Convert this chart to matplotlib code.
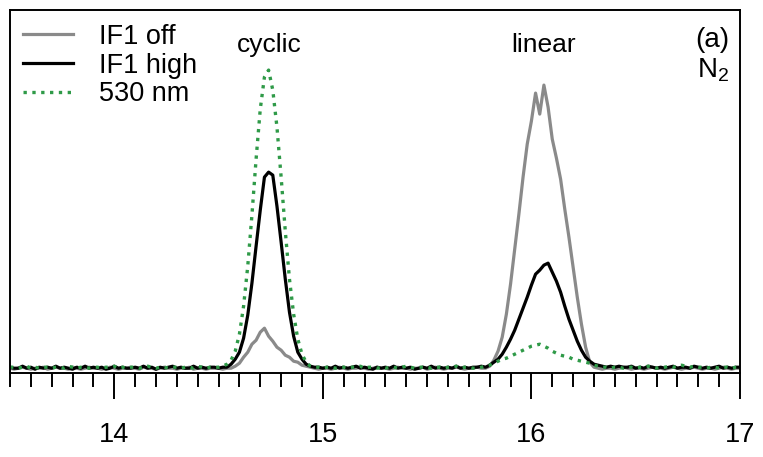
import numpy as np
import matplotlib.pyplot as plt
from matplotlib.ticker import MultipleLocator

plt.rcParams["font.family"] = ["Liberation Sans", "DejaVu Sans"]
plt.rcParams["mathtext.fontset"] = "custom"
plt.rcParams["mathtext.rm"] = "Liberation Sans"

# sampling grid of the traces (min)
retention_time = np.round(np.arange(13.50, 17.001, 0.02), 2)

# one row = 10 samples (0.2 min)
if1_off = [
    1, 0, 1, 2, 1, 0, 1, 1, 2, 0,
    1, 2, 1, 1, 0, 2, 1, 0, 1, 2,
    1, 1, 0, 1, 2, 1, 0, 1, 1, 2,
    1, 0, 2, 1, 1, 0, 1, 2, 1, 1,
    0, 1, 1, 2, 0, 1, 1, 0, 1, 1,
    1, 0, 1, 1, 3, 6, 12, 17, 25, 29,
    37, 41, 33, 28, 22, 19, 14, 12, 8, 7,
    4, 3, 2, 1, 0, 1, 1, 0, 1, 2,
    1, 0, 1, 1, 2, 1, 0, 1, 2, 1,
    1, 0, 1, 2, 1, 1, 0, 1, 1, 2,
    0, 1, 2, 1, 0, 1, 1, 2, 1, 0,
    1, 1, 2, 1, 1, 3, 9, 18, 32, 55,
    85, 120, 155, 192, 225, 248, 276, 255, 284, 262,
    230, 211, 190, 160, 132, 102, 72, 45, 22, 7,
    2, 1, 0, 1, 1, 0, 1, 2, 1, 0,
    1, 1, 0, 1, 2, 1, 1, 0, 1, 2,
    1, 0, 1, 1, 2, 1, 0, 1, 1, 0,
    1, 2, 1, 0, 1, 1,
]

if1_high = [
    2, 1, 1, 3, 1, 2, 0, 2, 1, 2,
    1, 3, 1, 2, 1, 0, 2, 1, 3, 1,
    2, 1, 2, 0, 1, 3, 1, 2, 1, 1,
    2, 1, 3, 1, 2, 0, 2, 1, 2, 3,
    1, 2, 1, 1, 3, 1, 2, 1, 2, 2,
    1, 2, 2, 5, 10, 17, 31, 54, 86, 123,
    159, 192, 197, 194, 163, 127, 90, 57, 33, 17,
    10, 5, 3, 2, 2, 1, 2, 1, 3, 1,
    2, 1, 2, 3, 1, 2, 1, 0, 2, 1,
    2, 1, 3, 1, 2, 1, 2, 0, 1, 2,
    1, 3, 1, 2, 1, 2, 1, 3, 1, 2,
    1, 2, 2, 3, 2, 4, 7, 10, 15, 22,
    30, 39, 50, 61, 72, 84, 95, 99, 104, 106,
    97, 88, 77, 63, 50, 39, 28, 19, 12, 8,
    5, 4, 3, 2, 3, 2, 3, 2, 2, 3,
    1, 2, 1, 3, 2, 1, 2, 1, 2, 3,
    1, 2, 2, 1, 3, 2, 1, 2, 1, 2,
    3, 1, 2, 1, 2, 2,
]

nm530 = [
    2, 2, 1, 2, 3, 1, 2, 1, 2, 2,
    1, 2, 2, 1, 3, 2, 1, 2, 2, 1,
    2, 2, 1, 2, 2, 3, 1, 2, 1, 2,
    2, 1, 2, 3, 2, 1, 2, 2, 1, 2,
    2, 1, 2, 2, 1, 3, 2, 1, 2, 2,
    2, 3, 5, 9, 18, 35, 63, 103, 154, 210,
    260, 292, 299, 279, 242, 192, 138, 90, 55, 30,
    15, 7, 3, 2, 2, 1, 2, 2, 1, 2,
    2, 1, 2, 2, 3, 1, 2, 2, 1, 2,
    1, 2, 2, 1, 2, 3, 2, 1, 2, 2,
    2, 1, 2, 2, 1, 2, 2, 3, 1, 2,
    2, 1, 1, 2, 3, 4, 6, 8, 10, 11,
    13, 15, 17, 19, 21, 23, 24, 25, 23, 21,
    18, 16, 14, 13, 12, 10, 9, 8, 7, 6,
    4, 3, 2, 2, 1, 2, 2, 1, 2, 2,
    1, 2, 2, 3, 2, 1, 2, 2, 3, 2,
    3, 4, 3, 2, 3, 2, 2, 1, 2, 2,
    1, 2, 2, 1, 2, 2,
]

labels = ["IF1 off", "IF1 high", "530 nm"]
peak_names = ["cyclic", "linear"]
peak_pos = [14.745, 16.06]

fig = plt.figure(figsize=(7.63, 4.57), dpi=100)
ax = fig.add_axes([0.0131, 0.184, 0.9567, 0.794])

ax.plot(retention_time, if1_off, color="#8a8a8a", lw=2.3, label=labels[0])
ax.plot(retention_time, if1_high, color="black", lw=2.3, label=labels[1])
ax.plot(retention_time, nm530, color="#2f9a48", lw=2.4, ls=":", label=labels[2])

ax.set_xlim(13.5, 17.0)
ax.set_ylim(-3.7, 359)
ax.set_yticks([])
ax.xaxis.set_major_locator(MultipleLocator(1))
ax.xaxis.set_minor_locator(MultipleLocator(0.1))
ax.tick_params(axis="x", which="major", direction="out", length=18.7, width=1.4,
               pad=17, labelsize=19.5)
ax.tick_params(axis="x", which="minor", direction="out", length=10, width=1.4)
for sp in ax.spines.values():
    sp.set_linewidth(1.4)

for name, pos in zip(peak_names, peak_pos):
    ax.text(pos, 324, name, ha="center", va="center", fontsize=19)

ax.text(0.985, 0.917, "(a)", transform=ax.transAxes, ha="right", va="center", fontsize=20)
ax.text(0.985, 0.834, r"$\mathregular{N_2}$", transform=ax.transAxes, ha="right",
        va="center", fontsize=20)

ax.legend(loc="upper left", bbox_to_anchor=(0.0178, 0.962), frameon=False,
          fontsize=19.5, handlelength=1.85, handletextpad=0.95, labelspacing=0.1,
          borderpad=0, borderaxespad=0)

fig.savefig("out.png", dpi=100)
